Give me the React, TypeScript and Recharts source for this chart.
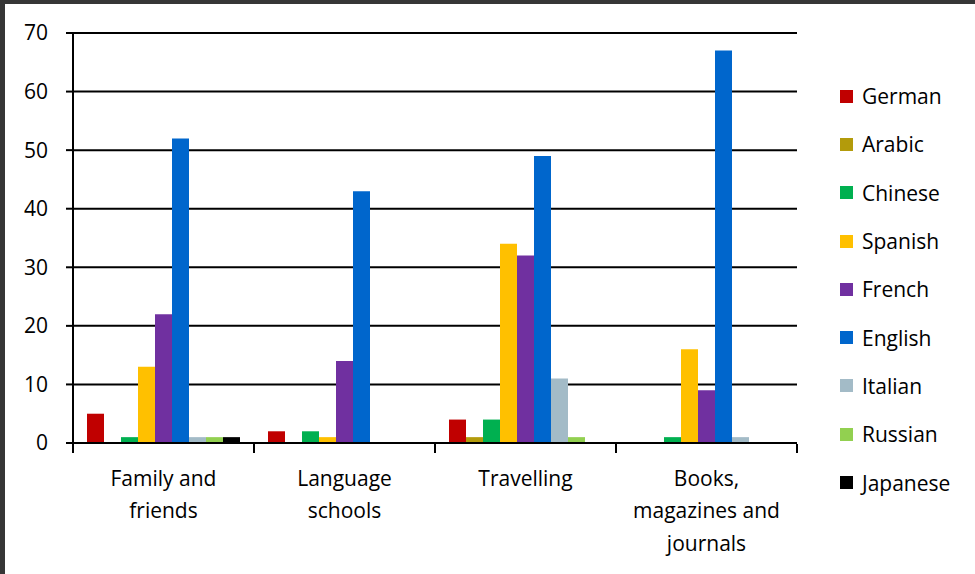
import React from 'react';
import { BarChart, Bar, XAxis, YAxis, CartesianGrid, Legend } from 'recharts';

const categories = ['Family and friends', 'Language schools', 'Travelling', 'Books, magazines and journals'];
const categoryLines = [['Family and', 'friends'], ['Language', 'schools'], ['Travelling'], ['Books,', 'magazines and', 'journals']];
const languages = ['German', 'Arabic', 'Chinese', 'Spanish', 'French', 'English', 'Italian', 'Russian', 'Japanese'];
const colors = ['#C00000', '#B39B0B', '#00B050', '#FFC000', '#7030A0', '#0066CC', '#A3BBC7', '#92D050', '#000000'];

const german = [5, 2, 4, 0];
const arabic = [0, 0, 1, 0];
const chinese = [1, 2, 4, 1];
const spanish = [13, 1, 34, 16];
const french = [22, 14, 32, 9];
const english = [52, 43, 49, 67];
const italian = [1, 0, 11, 1];
const russian = [1, 0, 1, 0];
const japanese = [1, 0, 0, 0];
const yTicks = [0, 10, 20, 30, 40, 50, 60, 70];

const series = [german, arabic, chinese, spanish, french, english, italian, russian, japanese];

const data = categories.map((c, i) => {
  const row: Record<string, any> = { name: c, idx: i };
  languages.forEach((l, j) => {
    row[l] = series[j][i];
  });
  return row;
});

const FONT = '"Open Sans", "Noto Sans", sans-serif';

const CatTick = (props: any) => {
  const { x, y, payload, index } = props;
  const off = payload && payload.offset ? payload.offset : 0;
  const lines = categoryLines[index] || [String(payload.value)];
  return (
    <g>
      <line x1={x - off} x2={x - off} y1={y - 1} y2={y + 8} stroke="#000" strokeWidth={2} />
      {index === categories.length - 1 && (
        <line x1={x + off} x2={x + off} y1={y - 1} y2={y + 8} stroke="#000" strokeWidth={2} />
      )}
      <text x={x} y={y} textAnchor="middle" fontFamily={FONT} fontSize={21} fill="#000">
        {lines.map((l, i) => (
          <tspan key={i} x={x} dy={i === 0 ? 41 : 32.3}>
            {l}
          </tspan>
        ))}
      </text>
    </g>
  );
};

const LegendContent = () => {
  return (
    <div style={{ fontFamily: FONT, fontSize: 21, color: '#000' }}>
      {languages.map((l, i) => (
        <div key={l} style={{ display: 'flex', alignItems: 'center', height: 48.3 }}>
          <div style={{ width: 13, height: 13, background: colors[i], marginRight: 9 }} />
          <span>{l}</span>
        </div>
      ))}
    </div>
  );
};

export default function App() {
  return (
    <div style={{ position: 'absolute', left: 0, top: 0, width: 975, height: 574, background: '#363636' }}>
      <div style={{ position: 'absolute', left: 5, top: 4, width: 970, height: 570, background: '#fff' }} />
      <div style={{ position: 'absolute', left: 0, top: 0 }}>
        <BarChart
          width={975}
          height={574}
          data={data}
          margin={{ top: 33, right: 178, bottom: 0, left: 0 }}
          barGap={0}
          barCategoryGap={14}
        >
          <CartesianGrid vertical={false} stroke="#000" strokeWidth={2} />
          <XAxis
            dataKey="name"
            height={131}
            tickLine={false}
            tickSize={0}
            axisLine={{ stroke: '#000', strokeWidth: 2 }}
            tick={<CatTick />}
            interval={0}
          />
          <YAxis
            width={73}
            domain={[0, 70]}
            ticks={yTicks}
            interval={0}
            tickSize={7}
            tickMargin={18}
            tickLine={{ stroke: '#000', strokeWidth: 2 }}
            axisLine={{ stroke: '#000', strokeWidth: 2 }}
            tick={{ fill: '#000', fontSize: 21, fontFamily: FONT }}
          />
          <Legend
            layout="vertical"
            align="center"
            verticalAlign="middle"
            content={<LegendContent />}
            wrapperStyle={{ left: 840, top: 72, width: 134 }}
          />
          {languages.map((l, j) => (
            <Bar key={l} dataKey={l} fill={colors[j]} isAnimationActive={false} />
          ))}
        </BarChart>
      </div>
    </div>
  );
}
